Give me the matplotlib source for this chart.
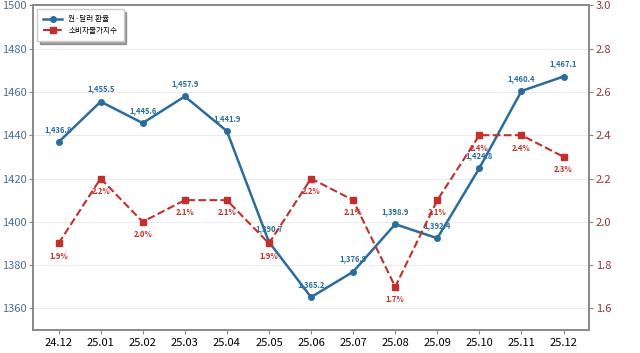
import matplotlib
matplotlib.use('Agg')
import matplotlib.pyplot as plt

plt.rcParams['font.family'] = ['Noto Sans CJK KR', 'DejaVu Sans']

months = ['24.12', '25.01', '25.02', '25.03', '25.04', '25.05', '25.06',
          '25.07', '25.08', '25.09', '25.10', '25.11', '25.12']
krw_usd = [1436.8, 1455.5, 1445.6, 1457.9, 1441.9, 1390.7, 1365.2,
           1376.9, 1398.9, 1392.4, 1424.8, 1460.4, 1467.1]
cpi = [1.9, 2.2, 2.0, 2.1, 2.1, 1.9, 2.2, 2.1, 1.7, 2.1, 2.4, 2.4, 2.3]

blue = '#2a6d9c'
red = '#c0302c'

fig = plt.figure(figsize=(6.4, 3.53), dpi=100)
ax = fig.add_axes([0.052, 0.065, 0.868, 0.92])
ax2 = ax.twinx()

x = list(range(len(months)))
l1, = ax.plot(x, krw_usd, color=blue, lw=1.8, marker='o', ms=4, label='원·달러 환율', zorder=3)
l2, = ax2.plot(x, cpi, color=red, lw=1.5, ls='--', marker='s', ms=4.5, label='소비자물가지수', zorder=2)

for xi, v in zip(x, krw_usd):
    ax.annotate(f'{v:,.1f}', (xi, v), xytext=(0, 6), textcoords='offset points',
                ha='center', va='bottom', fontsize=5.5, fontweight='bold', color=blue, zorder=4)
for xi, v in zip(x, cpi):
    ax2.annotate(f'{v:.1f}%', (xi, v), xytext=(0, -6), textcoords='offset points',
                 ha='center', va='top', fontsize=5.5, fontweight='bold', color=red)

ax.set_ylim(1350, 1500)
ax2.set_ylim(1.5, 3.0)
ax.set_yticks(range(1360, 1501, 20))
ax2.set_yticks([1.6, 1.8, 2.0, 2.2, 2.4, 2.6, 2.8, 3.0])
ax.set_xlim(-0.6, 12.6)
ax.set_xticks(x)
ax.set_xticklabels(months)

ax.grid(axis='y', color='#e8e8e8', lw=0.6)
ax.set_axisbelow(True)

ax.tick_params(axis='y', labelcolor='#4a6f8f', labelsize=8, color='#888888', length=3, pad=2)
ax2.tick_params(axis='y', labelcolor='#8b3a3a', labelsize=8, color='#888888', length=3, pad=2)
ax.tick_params(axis='x', labelsize=8, color='#888888', length=3, pad=3)
for a in (ax, ax2):
    for s in a.spines.values():
        s.set_color('#888888')
        s.set_linewidth(1.2)

leg = ax.legend(handles=[l1, l2], loc='upper left', fontsize=5.5, shadow=True,
                fancybox=False, framealpha=1, borderpad=0.8, handlelength=2.5)
leg.get_frame().set_edgecolor('#cccccc')

fig.savefig('out.png', dpi=100)
